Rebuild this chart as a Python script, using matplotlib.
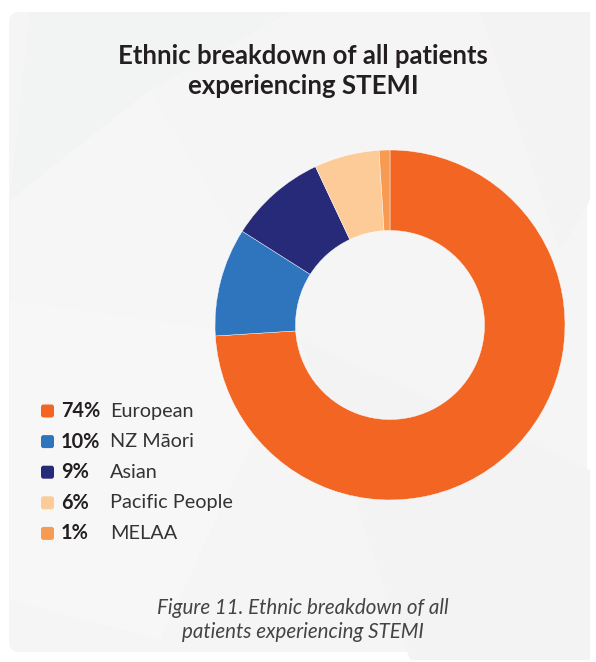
import matplotlib
matplotlib.use("Agg")
import matplotlib.pyplot as plt
from matplotlib.patches import FancyBboxPatch, Polygon

categories = ["European", "NZ Māori", "Asian", "Pacific People", "MELAA"]
values = [74, 10, 9, 6, 1]
pct_labels = ["74%", "10%", "9%", "6%", "1%"]
colors = ["#F26522", "#2E75BE", "#272A78", "#FDCB98", "#F89B52"]

title = "Ethnic breakdown of all patients\nexperiencing STEMI"
caption = "Figure 11. Ethnic breakdown of all\npatients experiencing STEMI"

W, H = 596, 662
DPI = 100
fig = plt.figure(figsize=(W / DPI, H / DPI), dpi=DPI)
fig.patch.set_facecolor("white")

def px(x, y):
    return x / W, 1 - y / H

# background panel
bg = fig.add_axes([0, 0, 1, 1])
bg.set_xlim(0, W)
bg.set_ylim(H, 0)
bg.axis("off")
bg.add_patch(FancyBboxPatch((9, 12), W - 18, H - 22, boxstyle="round,pad=0,rounding_size=10",
                            facecolor="#f5f5f5", edgecolor="none"))
polys = [
    ([(30, 12), (10, 200), (150, 90), (290, 12)], "#f2f3f3"),
    ([(10, 200), (10, 300), (300, 340), (150, 90)], "#f6f6f6"),
    ([(10, 300), (10, 600), (160, 640), (300, 340)], "#f7f7f7"),
    ([(300, 340), (410, 660), (590, 660), (590, 470)], "#f3f3f3"),
    ([(480, 12), (590, 12), (590, 200), (560, 250)], "#f3f3f3"),
]
for pts, c in polys:
    bg.add_patch(Polygon(pts, closed=True, facecolor=c, edgecolor="none"))

# donut
cx, cy, r = 390, 325, 175
ax = fig.add_axes([(cx - r) / W, (H - cy - r) / H, 2 * r / W, 2 * r / H])
ax.pie(values, colors=colors, startangle=90, counterclock=False, radius=1,
       wedgeprops=dict(width=0.46, edgecolor="white", linewidth=0.3))
ax.set_xlim(-1, 1)
ax.set_ylim(-1, 1)
ax.set_aspect("equal")
ax.axis("off")

# title
fig.text(*px(303, 71), title, ha="center", va="center", fontsize=18.5, fontweight="bold",
         family="Lato", color="#231f20", linespacing=1.25)

# legend
y0, dy = 411, 30.6
for i, (pl, cat, c) in enumerate(zip(pct_labels, categories, colors)):
    y = y0 + i * dy
    bg.add_patch(FancyBboxPatch((41, y - 6.5), 13, 13, boxstyle="round,pad=0,rounding_size=2.5",
                                facecolor=c, edgecolor="none"))
    bg.text(61, y, pl, ha="left", va="center", fontsize=14.3, fontweight="bold",
            family="Lato", color="#231f20")
    bg.text(110, y, cat, ha="left", va="center", fontsize=14.3, family="Lato", color="#333333")

# caption
fig.text(*px(303, 620), caption, ha="center", va="center", fontsize=14.8, style="italic",
         family="Lato", color="#444444", linespacing=1.3)

fig.savefig("out.png", dpi=DPI)
